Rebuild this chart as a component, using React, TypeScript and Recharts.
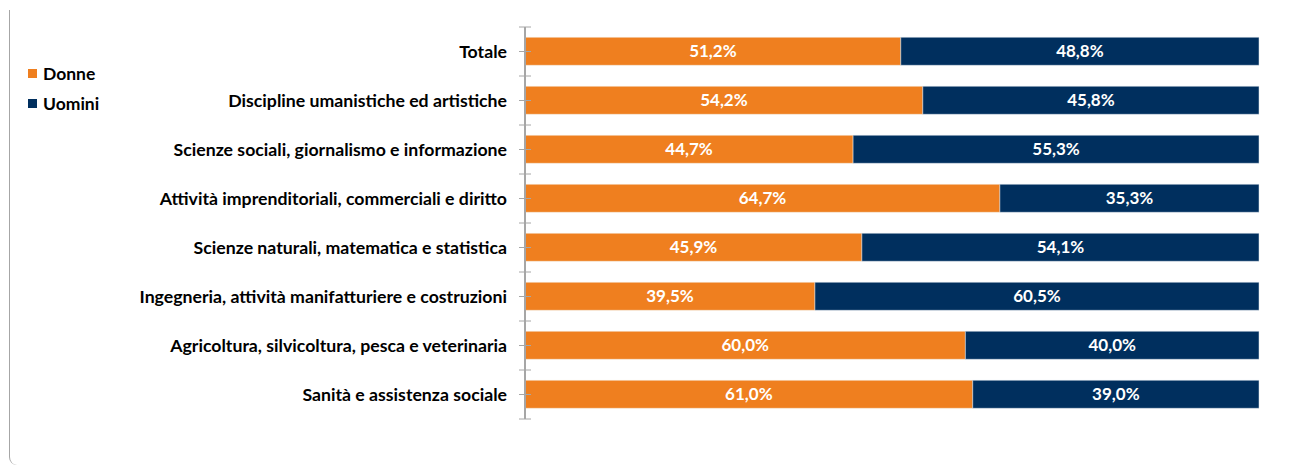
import React from "react";
import { BarChart, Bar, XAxis, YAxis, LabelList } from "recharts";

const categories = [
  "Totale",
  "Discipline umanistiche ed artistiche",
  "Scienze sociali, giornalismo e informazione",
  "Attività imprenditoriali, commerciali e diritto",
  "Scienze naturali, matematica e statistica",
  "Ingegneria, attività manifatturiere e costruzioni",
  "Agricoltura, silvicoltura, pesca e veterinaria",
  "Sanità e assistenza sociale",
];
const donne = [51.2, 54.2, 44.7, 64.7, 45.9, 39.5, 60.0, 61.0];
const uomini = [48.8, 45.8, 55.3, 35.3, 54.1, 60.5, 40.0, 39.0];
const seriesNames = ["Donne", "Uomini"];

const data = categories.map((c, i) => ({ name: c, donne: donne[i], uomini: uomini[i] }));

const W = 1308;
const H = 466;
const MARGIN = { top: 27, right: 49, bottom: 47, left: 0 };
const YAXIS_W = 525;
const ORANGE = "#EF7F1F";
const NAVY = "#002F5E";
const AXIS = "#A6A6A6";
const FONT = "Lato, 'Open Sans', sans-serif";
const band = (H - MARGIN.top - MARGIN.bottom) / categories.length;
const colors = [ORANGE, NAVY];

const fmt = (v: any) => Number(v).toFixed(1).replace(".", ",") + "%";

const CatTick = (props: any) => {
  const { x, y, payload, index } = props;
  return (
    <g>
      <line x1={x + 2} x2={x + 14} y1={y} y2={y} stroke={AXIS} strokeWidth={1} />
      <line x1={x + 2} x2={x + 14} y1={y - band / 2} y2={y - band / 2} stroke={AXIS} strokeWidth={1} />
      {index === categories.length - 1 && (
        <line x1={x + 2} x2={x + 14} y1={y + band / 2} y2={y + band / 2} stroke={AXIS} strokeWidth={1} />
      )}
      <text
        x={x - 10}
        y={y}
        textAnchor="end"
        dominantBaseline="central"
        fill="#000"
        fontFamily={FONT}
        fontWeight={700}
        fontSize={17.7}
      >
        {payload.value}
      </text>
    </g>
  );
};

export default function App() {
  return (
    <div style={{ position: "absolute", left: 0, top: 0, width: W, height: H, background: "#fff" }}>
      <div
        style={{
          position: "absolute",
          left: 9,
          top: 10,
          width: 30,
          height: 455,
          borderLeft: "1.5px solid #A6A6A6",
          borderBottomLeftRadius: 8,
          boxSizing: "border-box",
        }}
      />
      <div
        style={{
          position: "absolute",
          left: 28,
          top: 58,
          fontFamily: FONT,
          fontWeight: 700,
          fontSize: 17.5,
          color: "#000",
          zIndex: 2,
        }}
      >
        {seriesNames.map((n, i) => (
          <div key={n} style={{ display: "flex", alignItems: "center", height: 30 }}>
            <span style={{ width: 9, height: 9, background: colors[i], display: "inline-block", marginRight: 6 }} />
            <span>{n}</span>
          </div>
        ))}
      </div>
      <BarChart width={W} height={H} data={data} layout="vertical" margin={MARGIN} barCategoryGap="21%">
        <XAxis type="number" domain={[0, 100]} hide />
        <YAxis
          type="category"
          dataKey="name"
          width={YAXIS_W}
          axisLine={{ stroke: AXIS, strokeWidth: 2 }}
          tickLine={false}
          tick={<CatTick />}
          interval={0}
        />
        <Bar dataKey="donne" name={seriesNames[0]} stackId="a" fill={ORANGE} stroke="#F5F0EA" strokeWidth={0.5} isAnimationActive={false}>
          <LabelList dataKey="donne" position="center" formatter={fmt} fill="#fff" fontFamily={FONT} fontWeight={700} fontSize={17} />
        </Bar>
        <Bar dataKey="uomini" name={seriesNames[1]} stackId="a" fill={NAVY} stroke="#E3E8EE" strokeWidth={0.5} isAnimationActive={false}>
          <LabelList dataKey="uomini" position="center" formatter={fmt} fill="#fff" fontFamily={FONT} fontWeight={700} fontSize={17} />
        </Bar>
      </BarChart>
    </div>
  );
}
